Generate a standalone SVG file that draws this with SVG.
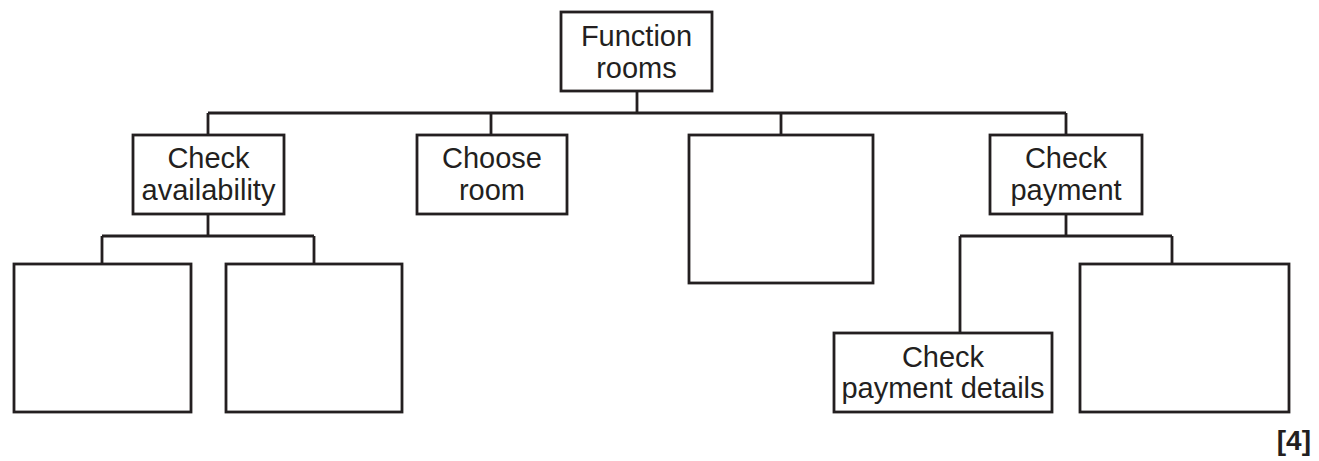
<svg xmlns="http://www.w3.org/2000/svg" width="1319" height="461" viewBox="0 0 1319 461">
<style>
.box{fill:#fff;stroke:#231f20;stroke-width:2.8}
.ln{fill:none;stroke:#231f20;stroke-width:2.8}
.t{font-family:"Liberation Sans",Arial,sans-serif;font-size:29px;fill:#231f20;text-anchor:middle}
.m{font-family:"Liberation Sans",Arial,sans-serif;font-size:28px;font-weight:bold;fill:#231f20;text-anchor:end}
</style>
<rect width="1319" height="461" fill="#fff"/>
<g id="connectors">
<path class="ln" d="M637 91V113M208 113H1066M208 113V135M491 113V135M781 113V135M1066 113V135"/>
<path class="ln" d="M208 214V236M102 236H314M102 236V264M314 236V264"/>
<path class="ln" d="M1066 214V236M960 236H1172M960 236V333M1172 236V264"/>
</g>
<g id="n-function-rooms"><rect class="box" x="561" y="12" width="151" height="79"/><text class="t" x="636.5" y="46">Function</text><text class="t" x="636.5" y="78">rooms</text></g>
<g id="n-check-availability"><rect class="box" x="133" y="135" width="151" height="79"/><text class="t" x="208.5" y="168">Check</text><text class="t" x="208.5" y="200">availability</text></g>
<g id="n-choose-room"><rect class="box" x="417" y="135" width="150" height="79"/><text class="t" x="492" y="168">Choose</text><text class="t" x="492" y="200">room</text></g>
<g id="n-blank-middle"><rect class="box" x="689" y="135" width="184" height="148"/></g>
<g id="n-check-payment"><rect class="box" x="990" y="135" width="152" height="79"/><text class="t" x="1066" y="168">Check</text><text class="t" x="1066" y="200">payment</text></g>
<g id="n-blank-1"><rect class="box" x="14" y="264" width="177" height="148"/></g>
<g id="n-blank-2"><rect class="box" x="226" y="264" width="176" height="148"/></g>
<g id="n-check-payment-details"><rect class="box" x="834" y="333" width="218" height="79"/><text class="t" x="943" y="367">Check</text><text class="t" x="943" y="398">payment details</text></g>
<g id="n-blank-3"><rect class="box" x="1080" y="264" width="209" height="148"/></g>
<text class="m" x="1311" y="450">[4]</text>
</svg>
